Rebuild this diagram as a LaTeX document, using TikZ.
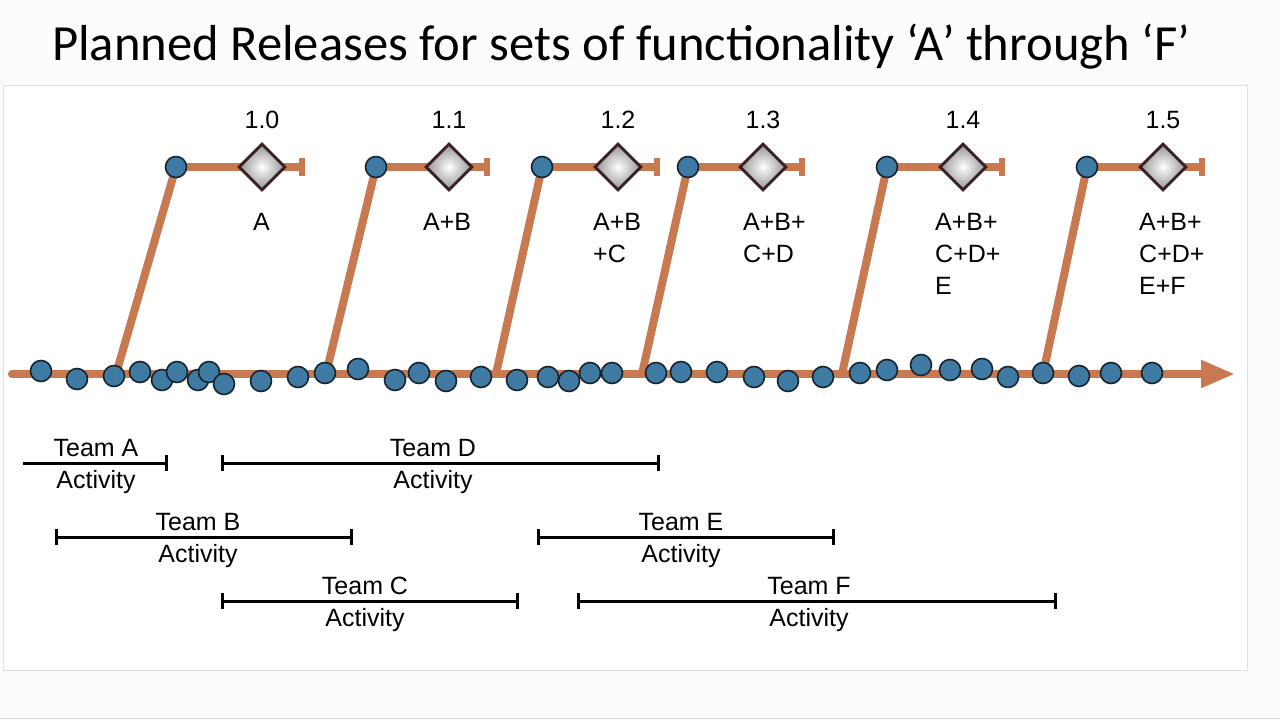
\documentclass[tikz,border=0pt]{standalone}
\usepackage{fontspec}
\setmainfont{Liberation Sans}
\newfontfamily\titlefont{Carlito}
\usetikzlibrary{arrows.meta,shapes.geometric}
\definecolor{rust}{RGB}{200,121,80}
\definecolor{dotblue}{RGB}{62,122,162}
\definecolor{dotedge}{RGB}{22,36,48}
\definecolor{diaedge}{RGB}{58,32,34}
\definecolor{bgc}{RGB}{252,251,253}
\begin{document}
\begin{tikzpicture}[x=1pt,y=-1pt,
  rustline/.style={draw=rust,line width=8pt},
  axisdot/.style={circle,draw=dotedge,fill=dotblue,line width=1.6pt,minimum size=21pt,inner sep=0pt},
  reldia/.style={diamond,draw=diaedge,line width=2.8pt,minimum width=47pt,minimum height=47pt,inner sep=0pt,
    inner color=white,outer color=gray!85},
  lbl/.style={font=\fontsize{25}{32}\selectfont,inner sep=0pt},
  teamline/.style={draw=black,line width=3pt,{Bar[width=16pt,line width=3pt]}-{Bar[width=16pt,line width=3pt]}},
  teamopen/.style={draw=black,line width=3pt,-{Bar[width=16pt,line width=3pt]}}
]
\useasboundingbox (0,0) rectangle (1280,720);
\fill[bgc] (0,0) rectangle (1280,720);
\draw[gray!25,fill=white] (3,85) rectangle (1247,670);
\draw[gray!30,line width=1pt] (0,718) -- (1280,718);

% title
\node[anchor=base west,inner sep=0pt,font=\titlefont\fontsize{50.6}{60}\selectfont] (title) at (52,60)
  {Planned Releases for sets of functionality ‘A’ through ‘F’};

% time axis
\coordinate (axs) at (12,374);
\coordinate (axe) at (1235,374);
\draw[rustline,line cap=round,-{Triangle[length=34pt,width=26pt]}] (axs) -- (axe);

% release structures (lines)
\foreach \f/\t/\e/\i in {116/176/305/0,326/376/490/1,496/542/660/2,642/688/805/3,842/887/1005/4,1043/1087/1205/5}{
  \coordinate (foot\i) at (\f,374);
  \coordinate (p\i) at (\t,167);
  \coordinate (end\i) at (\e,167);
  \draw[rustline] (foot\i) -- (p\i);
  \draw[rustline,-{Bar[width=18pt,line width=6pt]}] (p\i) -- (end\i);
}

% dots on axis
\foreach \x/\y [count=\k] in {41/371,77/379,114/376,140/372,162/380,177/372,198/380,209/372,224/384,261/381,298/377,
  325/373,358/369,395/380,419/373,446/381,481/377,517/380,548/377,569/381,590/373,612/373,
  656/373,681/372,717/372,754/377,788/381,823/377,860/373,887/370,921/365,950/370,
  982/369,1008/377,1043/373,1079/376,1111/373,1152/373}{
  \node[axisdot] (d\k) at (\x,\y) {};
}

% release nodes
\foreach \d/\v/\lx/\lab/\i in {262/1.0/253/{A}/0,449/1.1/423/{A+B}/1,618/1.2/593/{A+B\\+C}/2,
  763/1.3/743/{A+B+\\C+D}/3,963/1.4/935/{A+B+\\C+D+\\E}/4,1163/1.5/1139/{A+B+\\C+D+\\E+F}/5}{
  \node[axisdot] (top\i) at (p\i) {};
  \node[reldia] (dia\i) at (\d,167) {};
  \node[lbl,anchor=base] (ver\i) at (\d,128) {\v};
  \node[lbl,anchor=north west,align=left] (set\i) at (\lx,213) {\lab};
}

% team activities
\coordinate (ta1) at (23,463);  \coordinate (ta2) at (168,463);
\coordinate (td1) at (221,463); \coordinate (td2) at (660,463);
\coordinate (tb1) at (55,537);  \coordinate (tb2) at (353,537);
\coordinate (te1) at (537,537); \coordinate (te2) at (835,537);
\coordinate (tc1) at (221,601); \coordinate (tc2) at (519,601);
\coordinate (tf1) at (577,601); \coordinate (tf2) at (1057,601);
\draw[teamopen] (ta1) -- (ta2);
\draw[teamline] (td1) -- (td2);
\draw[teamline] (tb1) -- (tb2);
\draw[teamline] (te1) -- (te2);
\draw[teamline] (tc1) -- (tc2);
\draw[teamline] (tf1) -- (tf2);

\foreach \cx/\ly/\n in {96/463/A,433/463/D,198/537/B,681/537/E,365/601/C,809/601/F}{
  \node[lbl,anchor=base] (team\n) at (\cx,\ly-7) {Team \n};
  \node[lbl,anchor=base] (act\n) at (\cx,\ly+25) {Activity};
}
\end{tikzpicture}
\end{document}
